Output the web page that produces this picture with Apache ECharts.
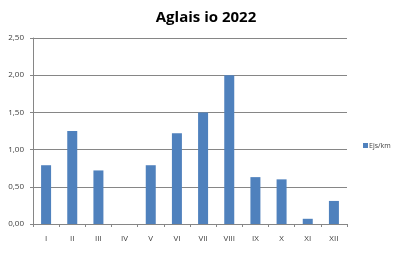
<!DOCTYPE html>
<html>
<head>
<meta charset="utf-8">
<script src="https://cdn.jsdelivr.net/npm/echarts@6/dist/echarts.min.js"></script>
<style>html,body{margin:0;padding:0;background:#fff}#c{width:400px;height:253px}</style>
</head>
<body>
<div id="c"></div>
<script>
const categories = ['I','II','III','IV','V','VI','VII','VIII','IX','X','XI','XII'];
const values = [0.79, 1.25, 0.72, 0, 0.79, 1.22, 1.50, 2.00, 0.63, 0.60, 0.07, 0.31];
const seriesName = 'Ejs/km';
const titleText = 'Aglais io 2022';

const chart = echarts.init(document.getElementById('c'), null, {renderer: 'canvas'});
chart.setOption({
  animation: false,
  backgroundColor: '#ffffff',
  title: {
    text: titleText, left: 201, top: 5, textAlign: 'center',
    textStyle: {fontFamily: 'Open Sans', fontSize: 15, fontWeight: 'bold', color: '#000'}
  },
  legend: {
    data: [seriesName], left: 358, top: 137, itemWidth: 5, itemHeight: 5, icon: 'rect',
    itemGap: 4,
    textStyle: {fontFamily: 'Open Sans', fontSize: 7, color: '#404040', padding: [0,0,0,-4]}
  },
  grid: {left: 33, right: 53, top: 38, bottom: 29, containLabel: false},
  xAxis: {
    type: 'category', data: categories,
    axisLine: {lineStyle: {color: '#868686', width: 1}},
    axisTick: {show: true, length: 3, lineStyle: {color: '#868686'}},
    axisLabel: {fontFamily: 'Open Sans', fontSize: 8, color: '#404040', margin: 11}
  },
  yAxis: {
    type: 'value', min: 0, max: 2.5, interval: 0.5,
    axisLine: {show: true, lineStyle: {color: '#868686', width: 1}},
    axisTick: {show: true, length: 3, lineStyle: {color: '#868686'}},
    splitLine: {lineStyle: {color: '#868686', width: 1}},
    axisLabel: {fontFamily: 'Open Sans', fontSize: 8, color: '#404040', margin: 9,
      formatter: v => v.toFixed(2).replace('.', ',')}
  },
  series: [{
    name: seriesName, type: 'bar', data: values, barWidth: 10,
    itemStyle: {color: '#4F81BD'}
  }]
});
</script>
</body>
</html>
